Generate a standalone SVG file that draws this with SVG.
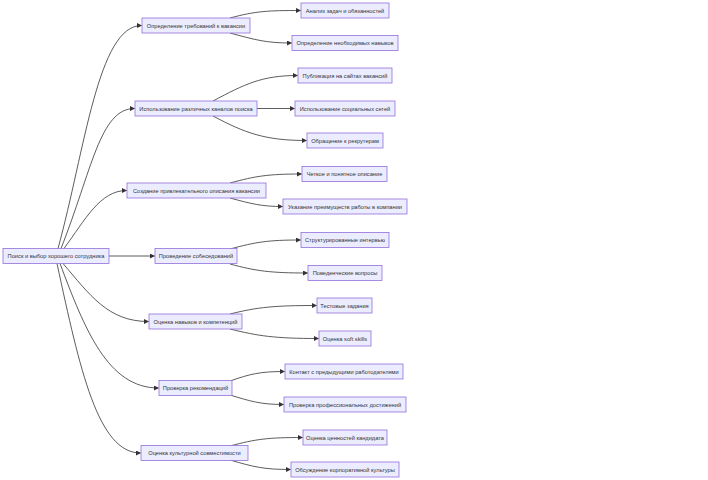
<svg xmlns="http://www.w3.org/2000/svg" width="708" height="480" viewBox="0 0 708 480">
<defs>
<marker id="arr" viewBox="0 0 10 10" refX="9" refY="5" markerWidth="5" markerHeight="5" markerUnits="userSpaceOnUse" orient="auto"><path d="M0,0 L10,5 L0,10 z" fill="#333"/></marker>
<style>
.n rect{fill:#ECECFF;stroke:#9370DB;stroke-width:0.8}
.n text{font-family:"Liberation Sans",Arial,sans-serif;font-size:5.7px;fill:#333;text-anchor:middle;dominant-baseline:central}
.e path{fill:none;stroke:#333;stroke-width:0.8;marker-end:url(#arr)}
</style>
</defs>
<rect width="708" height="480" fill="#fff"/>
<g id="edges" class="e">
<path d="M58,248.5 C85,150 98,25.5 141.5,25.5"/>
<path d="M61,248.5 C92,170 100,108.5 134.5,108.5"/>
<path d="M64,248.5 C85,220 100,190.5 126.5,190.5"/>
<path d="M109,256 L154.5,256"/>
<path d="M63,263.5 C90,295 108,321.5 148.5,321.5"/>
<path d="M60,263.5 C85,330 108,388 158.5,388"/>
<path d="M57,263.5 C80,370 98,453 140.5,453"/>
<path d="M230,18 C256,11 268,10.5 300.5,10.5"/>
<path d="M230,33 C256,40 266,43 291.5,43"/>
<path d="M213,101 C245,84 262,75.5 297.5,75.5"/>
<path d="M257,108.5 L294.5,108.5"/>
<path d="M213,116 C245,133 265,140.5 306.5,140.5"/>
<path d="M230,183 C256,176 268,174 301.5,174"/>
<path d="M230,198 C252,204 262,206.5 282.5,206.5"/>
<path d="M230,249 C256,242 268,240 300.5,240"/>
<path d="M230,264 C256,271 270,273 307.5,273"/>
<path d="M230,314 C258,307 275,305.5 316.5,305.5"/>
<path d="M230,329 C258,336 275,338.5 318.5,338.5"/>
<path d="M230,381 C250,374 260,371.5 284.5,371.5"/>
<path d="M230,395 C250,401 260,404.5 283.5,404.5"/>
<path d="M230,446 C256,439 268,437.5 302.5,437.5"/>
<path d="M230,460 C254,467 264,469.5 290.5,469.5"/>
</g>
<g id="root" class="n"><rect x="3" y="248.5" width="106" height="15"/><text x="56" y="256">Поиск и выбор хорошего сотрудника</text></g>
<g id="n1" class="n"><rect x="142" y="18" width="108" height="15"/><text x="196" y="25.5">Определение требований к вакансии</text></g>
<g id="n2" class="n"><rect x="135" y="101" width="122" height="15"/><text x="196" y="108.5">Использование различных каналов поиска</text></g>
<g id="n3" class="n"><rect x="127" y="183" width="139" height="15"/><text x="196.5" y="190.5">Создание привлекательного описания вакансии</text></g>
<g id="n4" class="n"><rect x="155" y="248.5" width="82" height="15"/><text x="196" y="256">Проведение собеседований</text></g>
<g id="n5" class="n"><rect x="149" y="314" width="93" height="15"/><text x="195.5" y="321.5">Оценка навыков и компетенций</text></g>
<g id="n6" class="n"><rect x="159" y="380.5" width="73" height="15"/><text x="195.5" y="388">Проверка рекомендаций</text></g>
<g id="n7" class="n"><rect x="141" y="445.5" width="107" height="15"/><text x="194.5" y="453">Оценка культурной совместимости</text></g>
<g id="n1a" class="n"><rect x="301" y="3" width="88" height="15"/><text x="345" y="10.5">Анализ задач и обязанностей</text></g>
<g id="n1b" class="n"><rect x="292" y="35.5" width="106" height="15"/><text x="345" y="43">Определение необходимых навыков</text></g>
<g id="n2a" class="n"><rect x="298" y="68" width="94" height="15"/><text x="345" y="75.5">Публикация на сайтах вакансий</text></g>
<g id="n2b" class="n"><rect x="295" y="101" width="100" height="15"/><text x="345" y="108.5">Использование социальных сетей</text></g>
<g id="n2c" class="n"><rect x="307" y="133" width="76" height="15"/><text x="345" y="140.5">Обращение к рекрутерам</text></g>
<g id="n3a" class="n"><rect x="302" y="166.5" width="85" height="15"/><text x="344.5" y="174">Четкое и понятное описание</text></g>
<g id="n3b" class="n"><rect x="283" y="199" width="124" height="15"/><text x="345" y="206.5">Указание преимуществ работы в компании</text></g>
<g id="n4a" class="n"><rect x="301" y="232.5" width="88" height="15"/><text x="345" y="240">Структурированные интервью</text></g>
<g id="n4b" class="n"><rect x="308" y="265.5" width="74" height="15"/><text x="345" y="273">Поведенческие вопросы</text></g>
<g id="n5a" class="n"><rect x="317" y="298" width="55" height="15"/><text x="344.5" y="305.5">Тестовые задания</text></g>
<g id="n5b" class="n"><rect x="319" y="331" width="52" height="15"/><text x="345" y="338.5">Оценка soft skills</text></g>
<g id="n6a" class="n"><rect x="285" y="364" width="118" height="15"/><text x="344" y="371.5">Контакт с предыдущими работодателями</text></g>
<g id="n6b" class="n"><rect x="284" y="397" width="122" height="15"/><text x="345" y="404.5">Проверка профессиональных достижений</text></g>
<g id="n7a" class="n"><rect x="303" y="430" width="84" height="15"/><text x="345" y="437.5">Оценка ценностей кандидата</text></g>
<g id="n7b" class="n"><rect x="291" y="462" width="108" height="15"/><text x="345" y="469.5">Обсуждение корпоративной культуры</text></g>
</svg>
